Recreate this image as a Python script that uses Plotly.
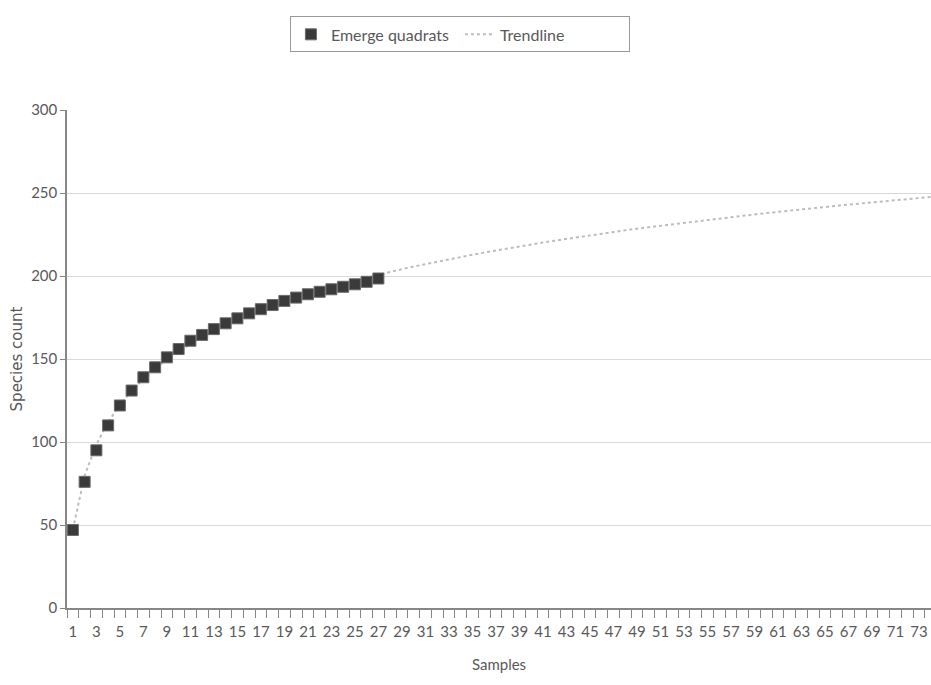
import plotly.graph_objects as go

samples = list(range(1, 28))
species = [47, 76, 95, 110, 122, 131, 139, 145, 151, 156, 161, 164.5, 168, 171.5,
           174.5, 177.5, 180, 182.5, 185, 187, 189, 190.5, 192, 193.5, 195, 196.5, 198.5]

trend_x = list(range(1, 75))
trend_y = [47.5, 79.7, 98.6, 112.0, 122.3, 130.8, 138.0, 144.2, 149.7, 154.6,
           159.0, 163.1, 166.8, 170.2, 173.4, 176.4, 179.2, 181.9, 184.4, 186.8,
           189.1, 191.2, 193.3, 195.3, 197.2, 199.0, 200.8, 202.4, 204.1, 205.7,
           207.2, 208.7, 210.1, 211.5, 212.8, 214.1, 215.4, 216.6, 217.9, 219.0,
           220.2, 221.3, 222.4, 223.5, 224.5, 225.5, 226.5, 227.5, 228.5, 229.4,
           230.3, 231.2, 232.1, 233.0, 233.8, 234.7, 235.5, 236.3, 237.1, 237.9,
           238.7, 239.4, 240.2, 240.9, 241.6, 242.3, 243.0, 243.7, 244.4, 245.0,
           245.7, 246.4, 247.0, 247.6]

x_tick_vals = list(range(1, 74, 2))
y_tick_vals = [0, 50, 100, 150, 200, 250, 300]

FONT = "Lato, Open Sans, sans-serif"
GREY = "#595959"

fig = go.Figure()
fig.add_trace(go.Scatter(
    x=trend_x, y=trend_y, mode="lines", name="Trendline",
    line=dict(color="#bdbdbd", width=2, dash="dot"),
))
fig.add_trace(go.Scatter(
    x=samples, y=species, mode="markers", name="Emerge quadrats",
    marker=dict(symbol="square", size=11, color="#3a3a3a",
                line=dict(color="#6a6a6a", width=1)),
))

fig.update_layout(
    width=931, height=685,
    margin=dict(l=67, r=0, t=110, b=77),
    plot_bgcolor="white", paper_bgcolor="white",
    font=dict(family=FONT, color=GREY, size=15),
    showlegend=True,
    legend=dict(
        orientation="h", traceorder="reversed",
        xref="container", yref="container",
        x=0.494, xanchor="center", y=0.976, yanchor="top",
        bordercolor="#999999", borderwidth=1,
        font=dict(family=FONT, size=16, color=GREY),
        entrywidth=124, entrywidthmode="pixels",
    ),
    xaxis=dict(
        range=[0.5, 74.03], tickmode="array", tickvals=x_tick_vals,
        ticktext=[str(v) for v in x_tick_vals], ticks="",
        ticklabelstandoff=9,
        showgrid=False, zeroline=False, showline=True, automargin=False,
        linecolor="#868686", linewidth=1.5,
        minor=dict(tick0=0.5, dtick=1, ticks="outside", ticklen=8,
                   tickcolor="#868686", showgrid=False),
        title=dict(text="Samples", standoff=21, font=dict(size=15)),
        tickfont=dict(size=15),
    ),
    yaxis=dict(
        range=[0, 300], tickmode="array", tickvals=y_tick_vals,
        ticks="outside", ticklen=5, tickcolor="#868686", automargin=False,
        showgrid=True, gridcolor="#d9d9d9", gridwidth=1,
        zeroline=False, showline=True, linecolor="#868686", linewidth=1.5,
        title=dict(text="Species count", standoff=5,
                   font=dict(family="DejaVu Sans", size=15)),
        tickfont=dict(size=15),
    ),
)

fig.write_html(
    "out.html",
    config={"displayModeBar": False},
    post_script="document.body.style.margin='0';document.body.style.overflow='hidden';",
)
